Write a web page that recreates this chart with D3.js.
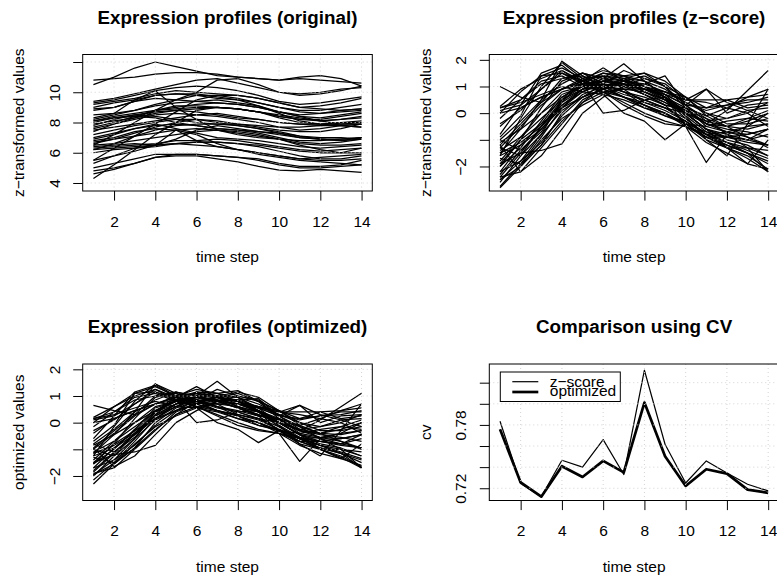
<!DOCTYPE html>
<html><head><meta charset="utf-8">
<script src="https://cdn.jsdelivr.net/npm/d3@7"></script>
<style>
body{margin:0;background:#fff;}
svg{display:block;font-family:"Liberation Sans",Arial,Helvetica,sans-serif;}
</style></head><body>
<script>
// data
var steps=[1,2,3,4,5,6,7,8,9,10,11,12,13,14];
var xTicks=[2,4,6,8,10,12,14];
var origTicks=[4,6,8,10,12], origLabs=[4,6,8,10];
var zTicks=[-2,-1,0,1,2], zLabs=[-2,0,1,2];
var cvTicks=[0.72,0.74,0.76,0.78,0.80,0.82], cvLabs=[0.72,0.78];
var origVals=[
 [10.5,11.0,11.6,12.0,11.7,11.4,11.1,11.0,10.9,10.8,10.9,10.8,10.7,10.6],
 [10.8,10.9,11.0,11.2,11.3,11.3,11.2,11.0,10.9,10.8,11.0,11.1,10.9,10.4],
 [9.4,9.6,9.9,10.2,10.5,10.8,10.9,10.6,10.3,10.0,9.9,10.0,10.2,10.3],
 [9.3,9.5,9.8,10.1,10.3,10.4,10.3,10.1,9.8,9.4,9.2,9.3,9.5,9.7],
 [9.2,9.4,9.6,9.9,10.1,10.0,9.9,9.8,9.6,9.3,9.0,9.1,9.3,9.6],
 [9.0,9.3,9.5,9.8,9.9,9.8,9.6,9.5,9.3,9.0,8.8,8.8,9.0,9.2],
 [8.8,9.0,9.4,9.6,9.5,9.4,9.3,9.2,9.0,8.7,8.5,8.6,8.8,8.9],
 [8.3,8.6,9.5,10.1,9.0,8.2,7.5,7.2,7.0,6.9,6.8,6.8,6.9,7.0],
 [8.2,8.5,8.8,9.2,9.5,9.8,9.8,9.6,9.3,9.0,8.7,8.6,8.7,8.8],
 [8.1,8.4,8.6,8.8,9.0,9.2,9.3,9.2,9.0,8.7,8.4,8.3,8.5,8.7],
 [8.0,8.3,8.5,8.7,8.8,8.9,9.0,8.9,8.7,8.4,8.2,8.2,8.4,8.6],
 [7.9,8.1,8.3,8.6,8.8,8.7,8.5,8.3,8.2,8.0,7.9,7.9,8.0,8.1],
 [7.8,8.2,8.5,8.4,8.2,8.0,7.9,7.9,7.8,7.7,7.7,7.8,7.9,8.0],
 [7.6,7.9,8.2,8.5,8.6,8.5,8.4,8.2,8.0,7.7,7.5,7.6,7.8,7.9],
 [7.5,7.7,7.9,8.1,8.3,8.5,8.6,8.4,8.2,8.0,7.9,7.8,7.8,7.7],
 [7.2,7.5,7.8,8.0,8.2,8.2,8.0,7.8,7.6,7.4,7.1,6.9,6.8,6.9],
 [7.0,7.3,7.6,7.8,7.9,7.8,7.6,7.5,7.3,7.0,6.7,6.6,6.7,6.9],
 [6.9,7.2,7.6,7.9,7.6,7.3,7.0,6.9,6.8,6.6,6.4,6.3,6.4,6.5],
 [6.7,6.9,7.1,7.3,7.5,7.6,7.5,7.3,7.1,6.9,6.6,6.5,6.5,6.6],
 [6.5,6.6,6.8,7.0,7.2,7.4,7.5,7.4,7.2,6.9,6.5,6.2,6.0,6.0],
 [6.4,6.5,6.6,6.5,6.6,6.7,6.7,6.6,6.5,6.3,6.1,6.0,6.0,6.3],
 [6.3,6.4,6.5,6.6,6.8,6.8,6.9,6.8,6.6,6.4,6.2,6.1,6.2,6.3],
 [6.2,6.3,6.4,6.5,6.6,6.7,6.7,6.6,6.4,6.1,5.8,5.6,5.6,5.8],
 [6.0,6.2,6.3,6.4,6.6,6.5,6.4,6.2,6.0,5.8,5.6,5.5,5.5,5.6],
 [5.5,5.8,6.1,6.5,6.9,7.5,7.8,7.6,7.4,7.2,7.0,6.9,6.8,7.0],
 [5.3,5.8,6.3,6.5,7.5,7.2,6.6,6.2,5.9,5.7,5.5,5.4,5.3,5.2],
 [5.0,5.3,5.6,5.9,5.9,5.9,5.8,5.7,5.5,5.2,5.0,5.0,5.1,5.2],
 [4.8,5.0,5.3,5.7,5.9,5.9,5.8,5.7,5.6,5.3,5.1,5.1,5.2,5.5],
 [4.6,4.9,5.3,5.7,5.8,5.8,5.6,5.4,5.1,4.85,4.8,4.9,4.8,4.7],
 [4.3,5.2,6.2,7.2,8.0,8.8,9.0,8.9,8.7,8.5,8.3,8.1,8.2,8.4],
 [5.5,6.3,7.1,7.9,8.7,9.5,9.8,9.8,9.6,9.3,9.0,8.9,8.8,8.9],
 [6.5,7.2,8.0,8.8,9.5,10.0,10.8,10.9,10.5,10.0,9.8,9.9,10.1,10.4],
 [8.9,9.0,9.4,9.8,9.9,9.9,9.7,9.5,9.1,8.7,8.4,8.1,7.9,7.9],
 [8.5,8.6,8.8,9.1,9.3,9.4,9.5,9.3,9.1,8.6,8.1,7.9,7.8,7.7],
 [7.4,7.9,8.3,8.8,8.9,9.0,9.0,8.9,8.7,8.4,8.2,8.1,8.2,8.3],
 [6.6,6.9,7.3,7.7,8.0,8.2,8.1,7.9,7.7,7.5,7.4,7.4,7.6,7.9],
 [6.8,7.0,7.4,7.6,7.5,6.8,6.4,6.2,6.0,5.8,5.6,5.7,5.8,5.9],
 [8.1,8.3,8.4,8.3,8.0,7.8,7.6,7.5,7.4,7.3,7.1,7.0,7.0,6.9],
 [7.7,8.0,8.4,8.8,9.1,9.1,9.0,8.9,8.7,8.3,8.0,7.9,8.0,8.0],
 [6.2,6.6,7.1,7.5,7.8,7.9,7.9,7.8,7.6,7.3,7.0,6.9,6.9,7.0]
];
var zVals=[
 [-2.75,-1.9,-0.9,0.2,0.8,1.2,1.1,0.9,0.6,0.2,-0.1,0.2,0.0,0.4],
 [-2.6,-1.6,-0.5,0.5,1.0,1.3,1.2,1.0,0.7,0.3,-0.3,-0.5,-0.2,-0.3],
 [-2.4,-2.2,-1.3,-0.4,0.5,0.9,1.2,1.4,1.0,0.6,0.2,0.3,0.4,0.6],
 [-2.2,-1.2,-0.4,0.6,1.1,1.5,1.3,1.0,0.6,0.1,-0.4,-0.6,-0.7,-0.9],
 [-1.9,-1.0,0.2,1.2,1.5,1.3,1.0,0.7,0.4,0.0,-0.6,-0.8,-1.0,-0.8],
 [-1.5,-0.6,0.5,1.95,1.4,1.0,0.8,0.5,0.2,-0.3,-0.8,-0.9,-1.1,-1.2],
 [-1.6,-0.2,1.0,1.9,1.3,0.9,0.6,0.3,0.0,-0.4,-0.7,-0.9,-1.0,-1.2],
 [-0.8,0.3,1.5,1.8,1.2,0.7,0.5,0.2,-0.1,-0.3,-0.8,-1.1,-1.4,-1.7],
 [0.25,0.9,1.3,1.6,1.1,0.8,0.4,0.0,-0.3,-0.5,-0.9,-1.3,-1.6,-2.1],
 [0.2,0.5,1.1,1.3,1.4,1.0,0.6,0.2,0.0,-0.4,-0.9,-1.2,-1.5,-2.2],
 [1.0,0.6,0.4,0.9,1.2,1.0,0.7,0.5,0.2,-0.2,-0.8,-1.3,-1.7,-2.2],
 [0.0,0.8,1.4,1.5,1.1,1.2,1.0,0.7,0.3,-0.4,-1.0,-1.3,-1.3,-2.2],
 [-1.2,-2.2,-1.6,-0.6,0.4,1.0,1.3,1.2,0.9,0.4,0.1,0.3,0.5,0.5],
 [-1.9,-1.5,-1.4,-1.15,0.0,0.6,1.0,1.3,1.1,0.5,0.5,0.5,0.6,0.9],
 [-2.5,-2.0,-1.0,-0.2,0.3,0.7,1.0,1.1,1.4,0.3,0.9,0.0,0.3,0.4],
 [-1.3,-0.5,0.3,0.9,1.2,1.7,1.2,0.8,0.4,0.0,-0.6,-1.0,-1.2,-1.6],
 [-1.0,-0.3,0.5,1.1,1.5,1.3,1.85,1.2,0.6,-0.1,-0.7,-1.1,-1.5,-1.9],
 [-1.4,-0.9,-0.2,0.5,0.9,1.2,1.4,1.5,1.0,0.3,-0.2,-0.8,-1.3,-1.6],
 [-0.5,0.2,0.6,0.9,1.1,0.0,0.1,0.5,0.6,0.0,-0.6,-0.9,-1.0,-0.6],
 [0.2,0.4,0.7,1.0,0.8,0.7,0.0,-0.3,-1.0,-0.4,-0.5,-0.3,-0.2,0.1],
 [-2.3,-1.4,-0.6,0.3,0.8,1.1,1.0,0.9,0.8,0.4,0.0,-0.2,0.1,0.2],
 [-1.7,-1.9,-1.2,0.0,0.7,1.0,1.2,1.0,0.8,0.5,0.9,0.4,0.1,-0.2],
 [-2.0,-1.3,-0.3,0.7,1.0,1.4,1.3,0.9,0.5,0.0,-0.4,-0.7,-0.9,-1.2],
 [-0.4,0.1,0.9,1.5,1.2,1.4,0.9,0.4,0.1,-0.3,-0.8,-1.1,-1.3,-1.4],
 [-1.1,-0.6,0.0,0.6,1.0,1.2,1.1,1.0,0.6,-0.5,-1.85,-0.8,-0.5,0.0],
 [-1.5,-1.1,-0.5,0.3,0.9,1.0,0.9,0.8,0.5,-0.1,-1.0,-1.6,-0.4,0.9],
 [-1.8,-0.9,0.0,0.8,1.0,1.1,0.8,0.6,0.3,0.2,-0.4,0.1,0.85,1.6],
 [-2.5,-1.8,-1.1,-0.1,0.6,0.9,1.1,0.9,0.7,0.3,0.2,0.5,0.2,0.3],
 [-0.2,0.5,1.2,1.4,1.0,0.8,0.6,0.3,0.0,-0.5,-1.1,-1.5,-1.9,-1.0],
 [-1.3,-1.6,-0.8,0.1,0.6,1.1,1.6,1.3,1.0,0.2,-0.5,-0.7,-0.8,-0.6],
 [0.0,0.2,0.6,0.9,1.3,1.6,1.4,1.2,0.7,0.0,-0.6,-1.3,-1.9,-2.1],
 [-2.8,-2.0,-1.2,-0.3,0.4,0.8,0.9,0.9,0.7,0.5,0.4,0.2,0.6,0.7],
 [-1.2,-0.4,0.4,1.3,1.5,1.1,0.8,0.3,-0.1,-0.4,-0.9,-0.9,-0.8,-0.6],
 [-0.9,-0.1,1.4,1.7,1.3,0.8,0.3,-0.1,-0.4,-0.5,-0.8,-0.7,-0.5,-0.4],
 [-2.0,-1.0,-0.4,0.2,0.6,0.9,1.3,1.5,1.2,0.6,0.0,-0.4,-0.4,-0.2],
 [-1.6,-1.2,-0.6,0.2,0.9,1.3,1.1,0.7,0.3,0.1,-0.4,-0.5,-0.3,0.0],
 [-2.4,-1.5,-0.5,0.4,0.9,1.0,1.2,1.1,0.8,0.6,-0.1,-0.5,-0.9,-1.3],
 [0.1,0.3,0.9,1.6,1.2,0.9,0.6,0.4,0.2,0.0,-0.3,-0.2,0.0,-0.5],
 [-1.0,-1.4,-0.7,0.4,1.2,1.5,1.4,1.0,0.5,-0.2,-0.8,-1.2,-1.5,-1.8],
 [-2.2,-1.8,-0.8,0.5,1.3,1.4,1.2,0.8,0.5,0.1,-0.2,-0.5,-0.6,-0.4]
];
var optVals=[
 [-2.15,-1.5,-0.7,0.15,0.6,0.95,0.85,0.7,0.45,0.15,-0.1,0.15,0.0,0.3],
 [-2.0,-1.25,-0.4,0.4,0.8,1.0,0.95,0.8,0.55,0.25,-0.25,-0.4,-0.15,-0.25],
 [-1.9,-1.7,-1.0,-0.3,0.4,0.7,0.95,1.1,0.8,0.45,0.15,0.25,0.3,0.45],
 [-1.7,-0.95,-0.3,0.45,0.85,1.15,1.0,0.8,0.45,0.1,-0.3,-0.45,-0.55,-0.7],
 [-1.5,-0.8,0.15,0.95,1.15,1.0,0.8,0.55,0.3,0.0,-0.45,-0.6,-0.8,-0.6],
 [-1.15,-0.45,0.4,1.45,1.1,0.8,0.6,0.4,0.15,-0.25,-0.6,-0.7,-0.85,-0.95],
 [-1.25,-0.15,0.8,1.45,1.0,0.7,0.45,0.25,0.0,-0.3,-0.55,-0.7,-0.8,-0.95],
 [-0.6,0.25,1.15,1.4,0.95,0.55,0.4,0.15,-0.1,-0.25,-0.6,-0.85,-1.1,-1.35],
 [0.2,0.6,1.0,1.25,0.85,0.6,0.3,0.0,-0.25,-0.4,-0.7,-1.0,-1.25,-1.65],
 [0.15,0.4,0.85,1.0,1.1,0.8,0.45,0.15,0.0,-0.3,-0.7,-0.95,-1.15,-1.7],
 [0.65,0.45,0.3,0.7,0.95,0.8,0.55,0.4,0.15,-0.15,-0.6,-1.0,-1.3,-1.7],
 [0.0,0.6,1.1,1.15,0.85,0.95,0.8,0.55,0.25,-0.3,-0.8,-1.0,-1.0,-1.7],
 [-0.95,-1.65,-1.25,-0.45,0.3,0.8,1.0,0.95,0.7,0.3,0.1,0.25,0.4,0.4],
 [-1.5,-1.2,-1.1,-0.85,0.0,0.45,0.8,1.0,0.85,0.4,0.4,0.4,0.45,0.7],
 [-1.95,-1.55,-0.8,-0.15,0.25,0.55,0.8,0.85,0.9,0.25,0.65,0.0,0.25,0.3],
 [-1.0,-0.4,0.25,0.7,0.95,1.35,0.95,0.6,0.3,0.0,-0.45,-0.8,-0.95,-1.25],
 [-0.8,-0.25,0.4,0.85,1.15,1.0,1.55,0.95,0.45,-0.1,-0.55,-0.85,-1.15,-1.5],
 [-1.1,-0.7,-0.15,0.4,0.7,0.95,1.1,1.2,0.8,0.25,-0.15,-0.6,-1.0,-1.25],
 [-0.4,0.15,0.45,0.7,0.85,0.0,0.1,0.4,0.45,0.0,-0.45,-0.7,-0.8,-0.45],
 [0.15,0.3,0.55,0.8,0.6,0.55,0.0,-0.25,-0.75,-0.3,-0.4,-0.25,-0.15,0.1],
 [-1.8,-1.1,-0.45,0.25,0.6,0.85,0.8,0.7,0.6,0.3,0.0,-0.15,0.1,0.15],
 [-1.3,-1.5,-0.95,0.0,0.55,0.8,0.95,0.8,0.6,0.4,0.65,0.3,0.1,-0.15],
 [-1.55,-1.0,-0.25,0.55,0.8,1.1,1.0,0.7,0.4,0.0,-0.3,-0.55,-0.7,-0.95],
 [-0.3,0.1,0.7,1.15,0.95,1.1,0.7,0.3,0.1,-0.25,-0.6,-0.85,-1.0,-1.1],
 [-0.85,-0.45,0.0,0.45,0.8,0.95,0.85,0.8,0.45,-0.4,-1.45,-0.6,-0.4,0.0],
 [-1.15,-0.85,-0.4,0.25,0.7,0.8,0.7,0.6,0.4,-0.1,-0.8,-1.25,-0.3,0.7],
 [-1.4,-0.7,0.0,0.6,0.8,0.85,0.6,0.45,0.25,0.15,-0.3,0.1,0.6,1.1],
 [-1.95,-1.4,-0.85,-0.1,0.45,0.7,0.85,0.7,0.55,0.25,0.15,0.4,0.15,0.25],
 [-0.15,0.4,0.95,1.1,0.8,0.6,0.45,0.25,0.0,-0.4,-0.85,-1.15,-1.35,-0.8],
 [-1.0,-1.25,-0.6,0.1,0.45,0.85,1.25,1.0,0.8,0.15,-0.4,-0.55,-0.6,-0.45],
 [0.0,0.15,0.45,0.7,1.0,1.25,1.1,0.95,0.55,0.0,-0.45,-1.0,-1.35,-1.6],
 [-2.3,-1.55,-0.95,-0.25,0.3,0.6,0.7,0.7,0.55,0.4,0.3,0.15,0.45,0.55],
 [-0.95,-0.3,0.3,1.0,1.15,0.85,0.6,0.25,-0.1,-0.3,-0.7,-0.7,-0.6,-0.45],
 [-0.7,-0.1,1.1,1.35,1.0,0.6,0.25,-0.1,-0.3,-0.4,-0.6,-0.55,-0.4,-0.3],
 [-1.55,-0.8,-0.3,0.15,0.45,0.7,1.0,1.15,0.95,0.45,0.0,-0.3,-0.3,-0.15],
 [-1.25,-0.95,-0.45,0.15,0.7,1.0,0.85,0.55,0.25,0.1,-0.3,-0.4,-0.25,0.0],
 [-1.85,-1.15,-0.4,0.3,0.7,0.8,0.95,0.85,0.6,0.45,-0.1,-0.4,-0.7,-1.0],
 [0.1,0.25,0.7,1.25,0.95,0.7,0.45,0.3,0.15,0.0,-0.25,-0.15,0.0,-0.4],
 [-0.8,-1.1,-0.55,0.3,0.95,1.15,1.1,0.8,0.4,-0.15,-0.6,-0.95,-1.15,-1.4],
 [-1.7,-1.4,-0.6,0.4,1.0,1.1,0.95,0.6,0.4,0.1,-0.15,-0.4,-0.45,-0.3]
];
var cvZ=[0.7835,0.7245,0.712,0.7465,0.740,0.7661,0.733,0.8318,0.7617,0.725,0.7459,0.7345,0.7238,0.7175];
var cvOpt=[0.7759,0.7255,0.712,0.7409,0.7307,0.7459,0.735,0.8012,0.7503,0.7222,0.738,0.7339,0.7187,0.7156];

// layout
var wid=777, hgh=576;
var colx=[82.7,489.3]; // plot region left edges
var rowy=[54.5,364];    // plot region top edges
var pw=289.6, ph=136.5;
var fs=15.5;             // base font size

var svg=d3.select('body').append('svg').attr('width',wid).attr('height',hgh);
svg.append('rect').attr('width',wid).attr('height',hgh).attr('fill','#fff');

function drawpanel(p) {
 var l=colx[p.col], t=rowy[p.row];
 var x=d3.scaleLinear().domain([0.48,14.52]).range([l,l+pw]);
 var y=d3.scaleLinear().domain(p.ydom).range([t+ph,t]);
 var g=svg.append('g');
 var line=d3.line().x(function(d,i){return x(steps[i]);}).y(function(d){return y(d);});
 // series
 g.selectAll('path.ser').data(p.series).enter().append('path').attr('class','ser')
   .attr('d',function(d){return line(d.v);})
   .attr('fill','none').attr('stroke','#000')
   .attr('stroke-width',function(d){return d.w||1.25;})
   .attr('stroke-linejoin','round');
 // grid (drawn after lines as grid() does)
 g.selectAll('line.gx').data(xTicks).enter().append('line')
   .attr('x1',x).attr('x2',x).attr('y1',t).attr('y2',t+ph)
   .attr('stroke','#d3d3d3').attr('stroke-dasharray','1,3');
 g.selectAll('line.gy').data(p.yticks).enter().append('line')
   .attr('x1',l).attr('x2',l+pw).attr('y1',y).attr('y2',y)
   .attr('stroke','#d3d3d3').attr('stroke-dasharray','1,3');
 // box
 g.append('rect').attr('x',l).attr('y',t).attr('width',pw).attr('height',ph)
   .attr('fill','none').attr('stroke','#000').attr('stroke-width',1);
 // x axis
 var xa=g.append('g').attr('transform','translate(0,'+(t+ph)+')')
   .call(d3.axisBottom(x).tickValues(xTicks).tickSize(9.6).tickFormat(d3.format('d')));
 xa.select('.domain').remove();
 xa.selectAll('text').attr('y',35.5).attr('dy',null).attr('font-size',fs).attr('fill','#000');
 xa.attr('font-family',null);
 // y axis, labels parallel to the axis
 var ya=g.append('g').attr('transform','translate('+l+',0)')
   .call(d3.axisLeft(y).tickValues(p.yticks).tickSize(9.5)
     .tickFormat(function(d){return p.ylabs.indexOf(d)>=0?p.fmt(d):'';}));
 ya.select('.domain').remove();
 ya.attr('font-family',null);
 ya.selectAll('text').attr('x',null).attr('dy',null).attr('text-anchor','middle')
   .attr('transform','translate(-23,0) rotate(-90)').attr('font-size',fs).attr('fill','#000');
 // titles
 svg.append('text').attr('x',l+pw/2).attr('y',t-31).attr('text-anchor','middle')
   .attr('font-weight','bold').attr('font-size',18.8).text(p.title);
 svg.append('text').attr('x',l+pw/2).attr('y',t+ph+71).attr('text-anchor','middle')
   .attr('font-size',fs).text('time step');
 svg.append('text').attr('transform','translate('+(l-58.5)+','+(t+ph/2)+') rotate(-90)')
   .attr('text-anchor','middle').attr('font-size',fs).text(p.ylab);
 return {x:x,y:y,l:l,t:t};
}

function mk(arr){return arr.map(function(v){return {v:v};});}

drawpanel({col:0,row:0,ydom:[3.471,12.496],yticks:origTicks,ylabs:origLabs,fmt:d3.format('d'),
 title:'Expression profiles (original)',ylab:'z\u2212transformed values',series:mk(origVals)});
drawpanel({col:1,row:0,ydom:[-2.92,2.2],yticks:zTicks,ylabs:zLabs,fmt:d3.format('d'),
 title:'Expression profiles (z\u2212score)',ylab:'z\u2212transformed values',series:mk(zVals)});
drawpanel({col:0,row:1,ydom:[-2.92,2.2],yticks:zTicks,ylabs:zLabs,fmt:d3.format('d'),
 title:'Expression profiles (optimized)',ylab:'optimized values',series:mk(optVals)});
var cv=drawpanel({col:1,row:1,ydom:[0.7084,0.8377],yticks:cvTicks,ylabs:cvLabs,fmt:d3.format('.2f'),
 title:'Comparison using CV',ylab:'cv',series:[{v:cvZ,w:1.2},{v:cvOpt,w:2.7}]});

// legend (entries sit close together, as in the reference)
var lg=svg.append('g').attr('transform','translate('+(cv.l+11)+','+(cv.t+8)+')');
lg.append('rect').attr('x',0).attr('y',0).attr('width',120).attr('height',29.5)
  .attr('fill','#fff').attr('stroke','#000');
lg.append('line').attr('x1',12).attr('x2',38).attr('y1',9.7).attr('y2',9.7).attr('stroke','#000').attr('stroke-width',1.2);
lg.append('line').attr('x1',12).attr('x2',38).attr('y1',20).attr('y2',20).attr('stroke','#000').attr('stroke-width',2.7);
lg.append('text').attr('x',49.5).attr('y',14.7).attr('font-size',fs).text('z\u2212score');
lg.append('text').attr('x',49.5).attr('y',23.7).attr('font-size',fs).text('optimized');
</script>
</body></html>
